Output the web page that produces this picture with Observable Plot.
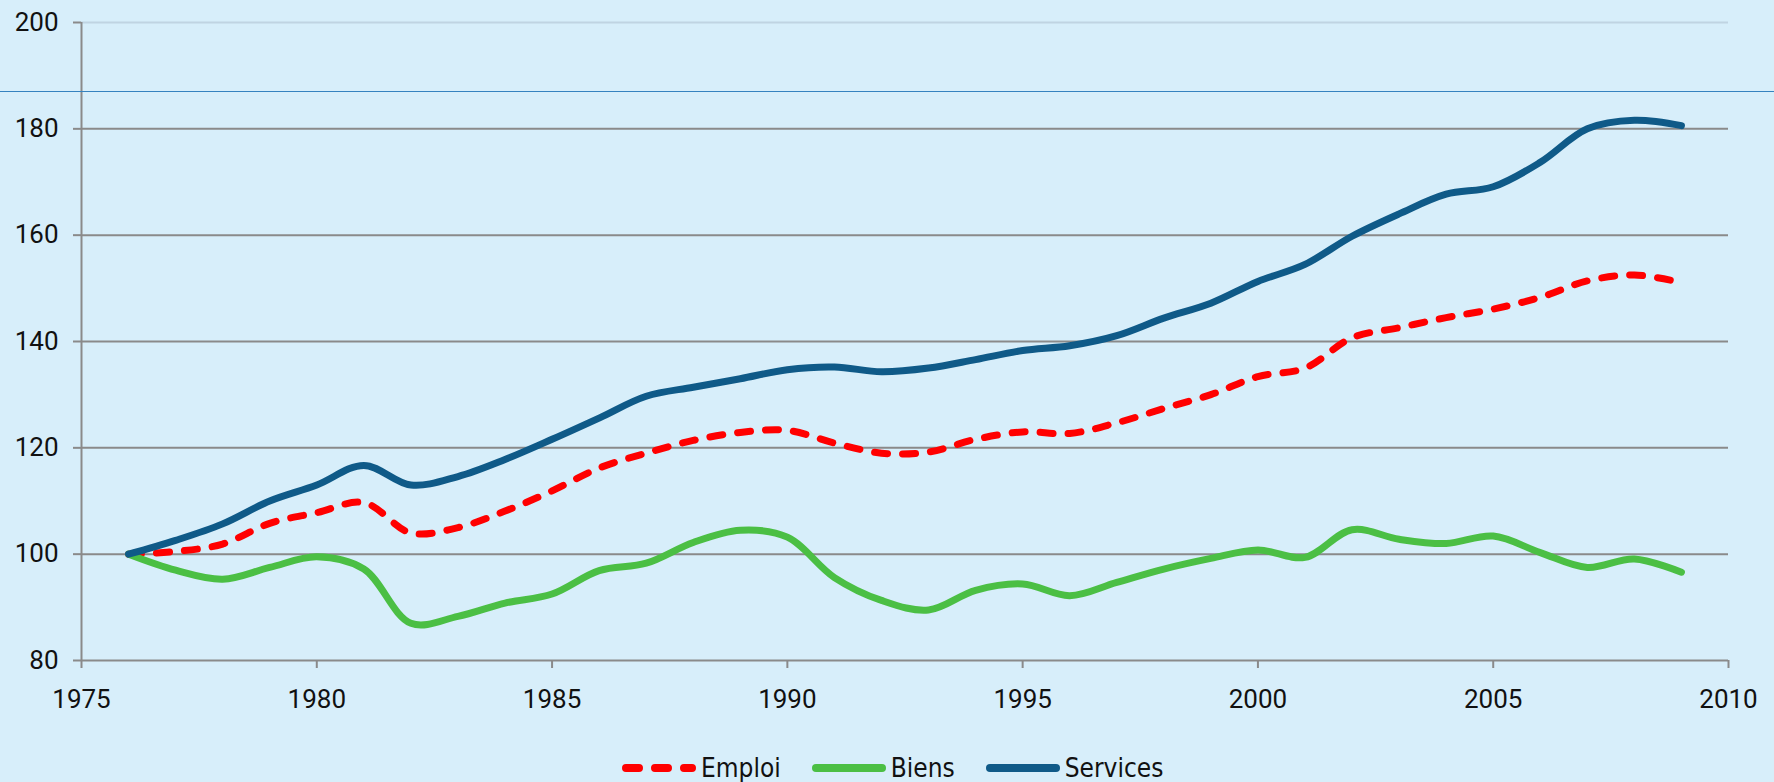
<!DOCTYPE html>
<html>
<head>
<meta charset="utf-8">
<script src="https://cdn.jsdelivr.net/npm/d3@7"></script>
<script src="https://cdn.jsdelivr.net/npm/@observablehq/plot@0.6"></script>
<style>
  html, body { margin: 0; padding: 0; background: #d7eefa; }
  #wrap { position: relative; width: 1774px; height: 782px; overflow: hidden; background: #d7eefa; }
  #stray { position: absolute; left: 0; top: 91px; width: 1774px; height: 1px; background: #3582bf; }
  #legend { position: absolute; left: 622px; top: 752px; height: 32px; display: flex; align-items: center;
            font-family: "DejaVu Sans Condensed", "DejaVu Sans", sans-serif; font-stretch: condensed;
            font-size: 26px; color: #111; white-space: nowrap; }
  #legend .item { display: flex; align-items: center; margin-right: 31px; }
  #legend svg { display: block; margin-right: 5px; }
</style>
</head>
<body>
<div id="wrap">
  <div id="chart"></div>
  <div id="stray"></div>
  <div id="legend"></div>
</div>
<script>
const years = [1976,1977,1978,1979,1980,1981,1982,1983,1984,1985,1986,1987,1988,1989,1990,1991,1992,1993,1994,1995,1996,1997,1998,1999,2000,2001,2002,2003,2004,2005,2006,2007,2008,2009];
const emploi = [100,100.5,101.9,105.8,107.8,109.7,104,105,108.1,111.9,116.2,119,121.4,122.9,123.3,120.9,119,119.2,121.6,123,122.7,124.7,127.4,130,133.4,135,140.7,142.6,144.5,146.1,148.3,151.4,152.5,151.1];
const biens = [100,97,95.3,97.5,99.5,97.2,87,88.3,90.8,92.5,96.9,98.3,102.2,104.5,103.2,95.6,91.3,89.5,93.2,94.4,92.2,94.7,97.2,99.2,100.8,99.4,104.6,102.8,102,103.4,100.3,97.5,99.1,96.6];
const services = [100,102.6,105.7,110,113,116.7,113,114.6,117.8,121.6,125.6,129.7,131.4,133,134.7,135.2,134.3,135,136.6,138.3,139.2,141.1,144.4,147.2,151.3,154.5,159.8,164,167.7,169.1,173.7,180,181.6,180.6];
const seriesNames = ["Emploi", "Biens", "Services"];
const seriesColors = ["#ff0000", "#4bbf44", "#0f5a88"];
const xTicks = [1975,1980,1985,1990,1995,2000,2005,2010];
const yTicks = [80,100,120,140,160,180,200];

const seriesValues = [emploi, biens, services];
const rows = seriesNames.map((name, i) => years.map((y, j) => ({year: y, value: seriesValues[i][j], name})));

const gridCol = "#8a8a8a";
const lineMarks = rows.map((data, i) => Plot.line(data, {
  x: "year", y: "value", stroke: seriesColors[i], strokeWidth: 7,
  curve: "catmull-rom", strokeLinecap: "round", strokeLinejoin: "round",
  strokeDasharray: i === 0 ? "13,15" : null
}));

const chart = Plot.plot({
  width: 1774, height: 735,
  marginLeft: 81, marginRight: 46, marginTop: 22, marginBottom: 75,
  style: {background: "transparent", fontFamily: "Roboto, 'Open Sans', sans-serif", fontSize: "26px", color: "#111", overflow: "visible"},
  x: {domain: [1975, 2010], label: null},
  y: {domain: [80, 200], label: null},
  marks: [
    Plot.ruleY(yTicks.filter(d => d < 200), {stroke: gridCol, strokeWidth: 2}),
    Plot.ruleY([200], {stroke: "#c0d4e2", strokeWidth: 2}),
    Plot.ruleX([1975], {stroke: gridCol, strokeWidth: 2}),
    Plot.axisY({ticks: yTicks, label: null, tickSize: 8, tickPadding: 15, stroke: gridCol, strokeWidth: 2, fill: "#111", tickFormat: d => String(d)}),
    Plot.axisX({ticks: xTicks, label: null, tickSize: 8, tickPadding: 21, stroke: gridCol, strokeWidth: 2, fill: "#111", tickFormat: d => String(d)}),
    ...lineMarks
  ]
});
document.getElementById("chart").appendChild(chart);

const legend = d3.select("#legend");
seriesNames.forEach((name, i) => {
  const item = legend.append("div").attr("class", "item");
  const svg = item.append("svg").attr("width", 74).attr("height", 14);
  svg.append("line").attr("x1", 4).attr("x2", 70).attr("y1", 7).attr("y2", 7)
    .attr("stroke", seriesColors[i]).attr("stroke-width", 8).attr("stroke-linecap", "round")
    .attr("stroke-dasharray", i === 0 ? "13,16" : null);
  item.append("span").text(name);
});
</script>
</body>
</html>
